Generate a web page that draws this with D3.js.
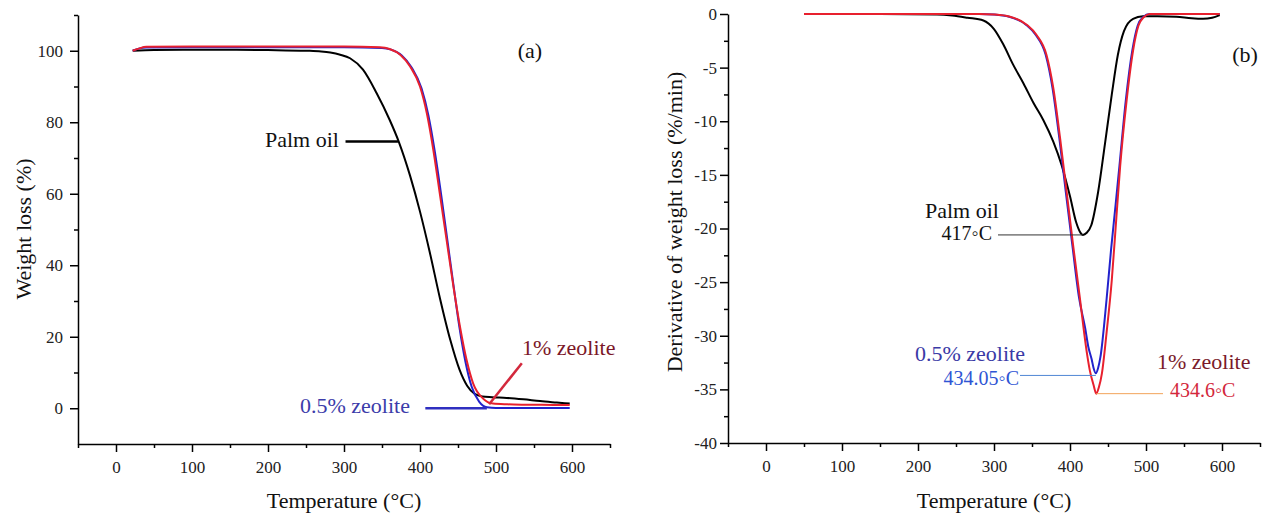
<!DOCTYPE html>
<html>
<head>
<meta charset="utf-8">
<script src="https://d3js.org/d3.v7.min.js"></script>
<style>
   body { margin: 0; background: #fff; }
   text { font-family: "Liberation Serif", "Times New Roman", "DejaVu Serif", serif; }
   .tick text { font-size: 17px; fill: #222; font-family: "Liberation Serif", "Times New Roman", serif; }
   .domain, .tick line { stroke: #000; stroke-width: 1.5px; }
   .axisTitle { font-size: 22px; fill: #111; }
   .note { font-size: 22px; }
   .temp { font-size: 20px; }
   .curve { fill: none; stroke-width: 2px; }
</style>
</head>
<body>
<svg id="chart" width="1273" height="517"></svg>
<script>
//Panel (a): weight loss (%) vs temperature
var tgaPalmT = [22, 50, 100, 150, 200, 250, 270, 282, 295, 308, 325, 343, 360, 372, 387, 400, 413, 426, 440, 452, 462, 472, 482, 495, 514, 536, 558, 580, 597];
var tgaPalmW = [100, 100.2, 100.3, 100.3, 100.2, 100, 99.8, 99.5, 98.9, 97.9, 94.7, 88.1, 80.7, 74.6, 65.0, 55.0, 43.5, 31.0, 19.0, 10.8, 6.3, 4.0, 3.3, 3.1, 2.9, 2.5, 2.0, 1.6, 1.3];

var tgaHalfT = [22, 30, 40, 100, 200, 300, 350, 362, 376, 389, 402, 411, 419.5, 428, 436, 444, 452, 460, 468, 478, 488, 500, 540, 597];
var tgaHalfW = [100, 100.6, 100.9, 101.0, 101.0, 101.0, 100.8, 100.3, 98.7, 95.3, 89.5, 82.0, 71.8, 59.5, 47.0, 34.5, 22.5, 12.8, 6.0, 1.8, 0.3, 0.1, 0.1, 0.1];

var tgaOneT = [22, 30, 40, 100, 200, 300, 347, 360, 374, 387, 400, 409, 417.5, 426, 435, 444, 452.6, 461.4, 470, 483, 496, 515, 536, 560, 597];
var tgaOneW = [100, 100.6, 101.1, 101.2, 101.2, 101.2, 101.0, 100.5, 98.9, 95.6, 90.0, 82.5, 72.3, 60.1, 47.1, 34.0, 22.8, 13.4, 6.9, 2.7, 1.3, 1.1, 1.0, 0.95, 0.9];

//Panel (b): derivative of weight loss (%/min) vs temperature
var dtgPalmT = [50, 150, 225, 245, 265, 286, 300, 312, 325, 339, 352, 365, 378, 389, 400, 408, 413, 417, 422, 428, 437, 446, 455, 463, 471, 483, 496, 515, 540, 560, 575, 587, 597];
var dtgPalmD = [0, 0, -0.05, -0.15, -0.35, -0.6, -1.4, -2.8, -4.7, -6.5, -8.3, -9.9, -11.9, -14.1, -17.0, -19.4, -20.3, -20.6, -20.4, -19.7, -16.6, -12.1, -7.5, -3.8, -1.6, -0.45, -0.22, -0.2, -0.25, -0.4, -0.45, -0.35, -0.1];

var dtgHalfT = [50, 150, 250, 280, 300, 320, 342, 355, 368, 377, 386, 394.5, 403, 412, 420, 424, 428.5, 431, 434, 437, 440, 448, 454, 460, 465, 473.5, 482, 489, 496, 505, 550, 597];
var dtgHalfD = [0, 0, 0, 0, -0.05, -0.25, -1.0, -1.96, -3.8, -6.9, -11.6, -16.6, -21.5, -26.5, -29.3, -31.0, -32.2, -33.0, -33.5, -33.0, -32.0, -26.7, -22.0, -17.8, -14.2, -8.0, -3.4, -1.1, -0.3, 0, 0, 0];

var dtgOneT = [50, 150, 250, 281, 300, 321, 343, 356, 369, 378, 387, 395.6, 404, 413, 422, 426, 431, 434.6, 438, 442, 448, 455, 461, 466, 474.6, 483, 490, 497, 505, 550, 597];
var dtgOneD = [0, 0, 0, 0, -0.05, -0.25, -1.0, -1.96, -3.8, -6.9, -11.6, -16.6, -21.5, -26.5, -31.5, -33.2, -34.6, -35.4, -34.8, -33.5, -29.8, -24.8, -19.0, -14.2, -8.0, -3.4, -1.1, -0.3, 0, 0, 0];

//Tick values
var tempTicks = [0, 100, 200, 300, 400, 500, 600];
var tempMinor = [-50, 50, 150, 250, 350, 450, 550, 650];
var weightTicks = [0, 20, 40, 60, 80, 100];
var weightMinor = [10, 30, 50, 70, 90, 110];
var derivTicks = [0, -5, -10, -15, -20, -25, -30, -35, -40];
var derivMinor = [-2.5, -7.5, -12.5, -17.5, -22.5, -27.5, -32.5, -37.5];

var svg = d3.select("#chart");

function zip(xs, ys){
   return xs.map(function(d, i){ return [d, ys[i]]; });
}

function drawAxes(x, y, yTicks, yMinor, yPad){
   var bottom = y.range()[0];
   var left = x.range()[0];
   //Temperature axis
   svg.append("g")
      .attr("transform", "translate(0," + bottom + ")")
      .call(d3.axisBottom(x).tickValues(tempTicks).tickSize(8).tickSizeOuter(0).tickPadding(9).tickFormat(function(d){ return d; }));
   svg.append("g")
      .attr("transform", "translate(0," + bottom + ")")
      .call(d3.axisBottom(x).tickValues(tempMinor).tickSize(4).tickFormat(""))
      .select(".domain").remove();
   //Value axis
   svg.append("g")
      .attr("transform", "translate(" + left + ",0)")
      .call(d3.axisLeft(y).tickValues(yTicks).tickSize(8).tickSizeOuter(0).tickPadding(yPad).tickFormat(function(d){ return d; }));
   svg.append("g")
      .attr("transform", "translate(" + left + ",0)")
      .call(d3.axisLeft(y).tickValues(yMinor).tickSize(4).tickFormat(""))
      .select(".domain").remove();
}

function drawCurve(x, y, pts, color){
   var line = d3.line()
      .x(function(d){ return x(d[0]); })
      .y(function(d){ return y(d[1]); })
      .curve(d3.curveMonotoneX);
   svg.append("path")
      .datum(pts)
      .attr("class", "curve")
      .attr("stroke", color)
      .attr("d", line);
}

function addText(px, py, txt, cls, color, anchor){
   svg.append("text")
      .attr("x", px).attr("y", py)
      .attr("class", cls)
      .attr("fill", color)
      .attr("text-anchor", anchor || "start")
      .text(txt);
}

function addLine(x1, y1, x2, y2, color, w){
   svg.append("line")
      .attr("x1", x1).attr("y1", y1).attr("x2", x2).attr("y2", y2)
      .attr("stroke", color).attr("stroke-width", w);
}

//Panel (a)
var xa = d3.scaleLinear().domain([-50, 650]).range([78, 610]);
var ya = d3.scaleLinear().domain([-10, 110]).range([444, 15]);
drawAxes(xa, ya, weightTicks, weightMinor, 7);
drawCurve(xa, ya, zip(tgaPalmT, tgaPalmW), "#000");
drawCurve(xa, ya, zip(tgaHalfT, tgaHalfW), "#2222cc");
drawCurve(xa, ya, zip(tgaOneT, tgaOneW), "#e8202e");

addText(344, 508, "Temperature (°C)", "axisTitle", "#111", "middle");
svg.append("text")
   .attr("class", "axisTitle")
   .attr("transform", "translate(31,229) rotate(-90)")
   .attr("text-anchor", "middle")
   .text("Weight loss (%)");

addText(530, 58, "(a)", "note", "#111", "middle");
addText(265, 147, "Palm oil", "note", "#111");
addLine(xa(302), ya(74.6), xa(371), ya(74.6), "#000", 2.5);
addText(522, 355, "1% zeolite", "note", "#7b1728");
addLine(xa(534), ya(12.6), xa(491), ya(1.1), "#d3283c", 2.5);
addText(300, 413, "0.5% zeolite", "note", "#3c3caa");
addLine(xa(407), ya(0), xa(488), ya(0), "#2f2fc0", 2.5);

//Panel (b)
var xb = d3.scaleLinear().domain([-50, 650]).range([728, 1260]);
var yb = d3.scaleLinear().domain([-40, 0]).range([443, 14]);
drawAxes(xb, yb, derivTicks, derivMinor, 3);
drawCurve(xb, yb, zip(dtgPalmT, dtgPalmD), "#000");
drawCurve(xb, yb, zip(dtgHalfT, dtgHalfD), "#2222cc");
drawCurve(xb, yb, zip(dtgOneT, dtgOneD), "#e8202e");

addText(994, 508, "Temperature (°C)", "axisTitle", "#111", "middle");
svg.append("text")
   .attr("class", "axisTitle")
   .attr("transform", "translate(682,222) rotate(-90)")
   .attr("text-anchor", "middle")
   .text("Derivative of weight loss (%/min)");

addText(1245, 62, "(b)", "note", "#111", "middle");
addText(925, 218, "Palm oil", "note", "#111");
addText(992, 240, "417◦C", "temp", "#111", "end");
addLine(998, yb(-20.6), xb(417), yb(-20.6), "#333", 1);
addText(915, 361, "0.5% zeolite", "note", "#3a3aa6");
addText(1019, 385, "434.05◦C", "temp", "#2f55d4", "end");
addLine(1020, yb(-33.7), xb(434), yb(-33.7), "#4f86d4", 1);
addText(1157, 369, "1% zeolite", "note", "#7a1a2a");
addText(1170, 397, "434.6◦C", "temp", "#d3283c");
addLine(xb(434.6), yb(-35.4), 1163, yb(-35.4), "#f2a35a", 1);
</script>
</body>
</html>
